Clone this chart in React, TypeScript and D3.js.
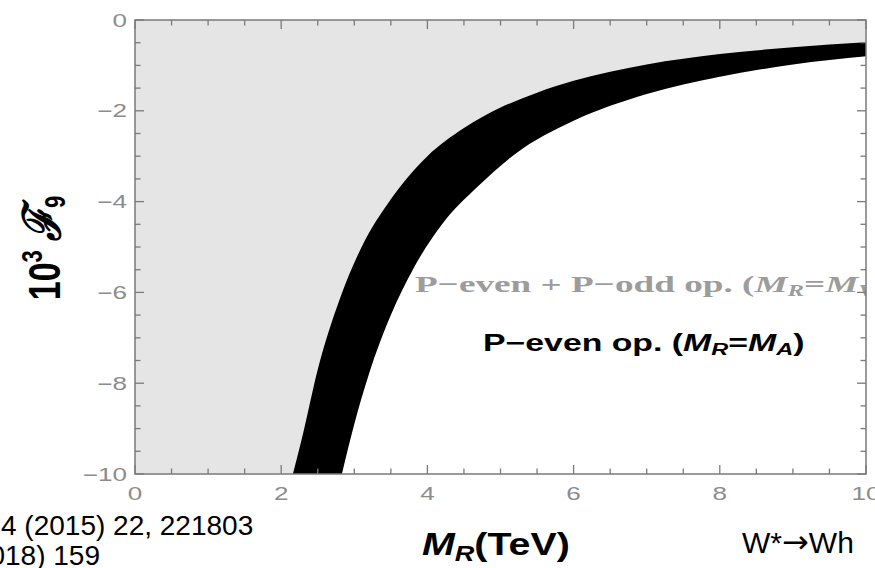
import React from "react";
import * as d3 from "d3";

// Data
const upperM = [2.16, 2.3, 2.5, 2.8, 3.1, 3.5, 4.0, 4.5, 5.0, 5.5, 6.0, 7.0, 8.0, 9.0, 10.0];
const upperF = [-10, -9.1, -7.7, -6.15, -5.0, -3.95, -3.0, -2.38, -1.93, -1.6, -1.34, -0.98, -0.75, -0.6, -0.49];
const lowerM = [2.83, 3.0, 3.2, 3.5, 3.8, 4.2, 4.7, 5.2, 6.0, 7.0, 8.0, 9.0, 10.0];
const lowerF = [-10, -8.9, -7.8, -6.5, -5.5, -4.5, -3.65, -2.95, -2.22, -1.63, -1.25, -0.98, -0.8];
const xTickValues = [0, 2, 4, 6, 8, 10];
const yTickValues = [0, -2, -4, -6, -8, -10];

const W = 875;
const H = 568;
const left = 135, right = 866, top = 20, bottom = 474;

export default function App() {
  const x = d3.scaleLinear().domain([0, 10]).range([left, right]);
  const y = d3.scaleLinear().domain([-10, 0]).range([bottom, top]);

  const upper: [number, number][] = upperM.map((m, i) => [m, upperF[i]]);
  const lower: [number, number][] = lowerM.map((m, i) => [m, lowerF[i]]);

  const line = d3
    .line<[number, number]>()
    .x((d) => x(d[0]))
    .y((d) => y(d[1]))
    .curve(d3.curveMonotoneX);

  const upperPath = line(upper) as string;
  const lowerRev = [...lower].reverse();
  const lowerRevPath = (line(lowerRev) as string).replace(/^M/, "L");
  const bandPath = upperPath + lowerRevPath + "Z";
  const whitePath = (line(lower) as string) + `L${x(10)},${y(-10)}Z`;

  const xMinor = d3.range(0, 10.001, 0.5);
  const yMinor = d3.range(-10, 0.001, 0.5);
  const isMajor = (v: number) => Math.abs(v / 2 - Math.round(v / 2)) < 1e-6;
  const majL = 9, minL = 5.5;
  const frameColor = "#7a7a7a";
  const tickFont = "'Liberation Sans', Arial, sans-serif";

  return (
    <svg
      width={W}
      height={H}
      style={{ position: "absolute", left: 0, top: 0, background: "#fff" }}
    >
      <defs>
        <clipPath id="plotclip">
          <rect x={left} y={top} width={right - left} height={bottom - top} />
        </clipPath>
      </defs>
      <g clipPath="url(#plotclip)">
        <rect x={left} y={top} width={right - left} height={bottom - top} fill="#e5e5e5" />
        <path d={whitePath} fill="#ffffff" />
        <path d={bandPath} fill="#000000" />
        <text
          transform={`translate(415,292) scale(1.55,1)`}
          fontFamily="'Liberation Serif', 'Times New Roman', serif"
          fontWeight="bold"
          fontSize={24}
          fill="#9c9c9c"
        >
          P−even + P−odd op. (<tspan fontStyle="italic">M</tspan>
          <tspan fontStyle="italic" fontSize={16} dy={4}>R</tspan>
          <tspan dy={-4}>=</tspan>
          <tspan fontStyle="italic">M</tspan>
          <tspan fontStyle="italic" fontSize={16} dy={4}>V</tspan>
        </text>
      </g>
      <text
        transform={`translate(483,351) scale(1.47,1)`}
        fontFamily={tickFont}
        fontWeight="bold"
        fontSize={23}
        fill="#000"
      >
        P−even op. (<tspan fontStyle="italic">M</tspan>
        <tspan fontStyle="italic" fontSize={16} dy={4}>R</tspan>
        <tspan dy={-4}>=</tspan>
        <tspan fontStyle="italic">M</tspan>
        <tspan fontStyle="italic" fontSize={16} dy={4}>A</tspan>
        <tspan dy={-4}>)</tspan>
      </text>

      {/* frame */}
      <rect
        x={left}
        y={top}
        width={right - left}
        height={bottom - top}
        fill="none"
        stroke={frameColor}
        strokeWidth={1.5}
      />
      {xMinor.map((v, i) => {
        const L = isMajor(v) ? majL : minL;
        return (
          <g key={"xt" + i} stroke={frameColor} strokeWidth={1.3}>
            <line x1={x(v)} x2={x(v)} y1={bottom} y2={bottom - L} />
            <line x1={x(v)} x2={x(v)} y1={top} y2={top + L} />
          </g>
        );
      })}
      {yMinor.map((v, i) => {
        const L = isMajor(v) ? majL : minL;
        return (
          <g key={"yt" + i} stroke={frameColor} strokeWidth={1.3}>
            <line x1={left} x2={left + L} y1={y(v)} y2={y(v)} />
            <line x1={right} x2={right - L} y1={y(v)} y2={y(v)} />
          </g>
        );
      })}
      {xTickValues.map((v) => (
        <text
          key={"xl" + v}
          transform={`translate(${x(v)},500) scale(1.45,1)`}
          textAnchor="middle"
          fontFamily={tickFont}
          fontSize={18}
          fill="#8c8c8c"
        >
          {String(v)}
        </text>
      ))}
      {yTickValues.map((v) => (
        <text
          key={"yl" + v}
          transform={`translate(127,${y(v) + 6.5}) scale(1.45,1)`}
          textAnchor="end"
          fontFamily={tickFont}
          fontSize={18}
          fill="#8c8c8c"
        >
          {v === 0 ? "0" : "−" + Math.abs(v)}
        </text>
      ))}

      {/* y axis label */}
      <text
        transform={`translate(60,248) rotate(-90) scale(1,1.3)`}
        textAnchor="middle"
        fontFamily={tickFont}
        fontWeight="bold"
        fontSize={34}
        fill="#000"
      >
        10<tspan fontSize={22} dy={-14}>3</tspan>
        <tspan dy={14}> </tspan>
        <tspan fontFamily="'DejaVu Serif', serif" fontStyle="italic" fontSize={40}>ℱ</tspan>
        <tspan fontSize={22} dy={4}>9</tspan>
      </text>

      {/* x axis label */}
      <text
        transform={`translate(422,555) scale(1.23,1)`}
        fontFamily={tickFont}
        fontWeight="bold"
        fontSize={32}
        fill="#000"
      >
        <tspan fontStyle="italic">M</tspan>
        <tspan fontStyle="italic" fontSize={22} dy={6}>R</tspan>
        <tspan dy={-6}>(TeV)</tspan>
      </text>

      {/* slide text */}
      <text x={1} y={535} fontFamily={tickFont} fontSize={28} fill="#000">
        4 (2015) 22, 221803
      </text>
      <text x={100} y={565} textAnchor="end" fontFamily={tickFont} fontSize={28} fill="#000">
        018) 159
      </text>
      <text x={742} y={553} fontFamily={tickFont} fontSize={30} fill="#000">
        W*<tspan fontFamily="'DejaVu Sans', sans-serif" fontSize={32}>→</tspan>Wh
      </text>
    </svg>
  );
}
